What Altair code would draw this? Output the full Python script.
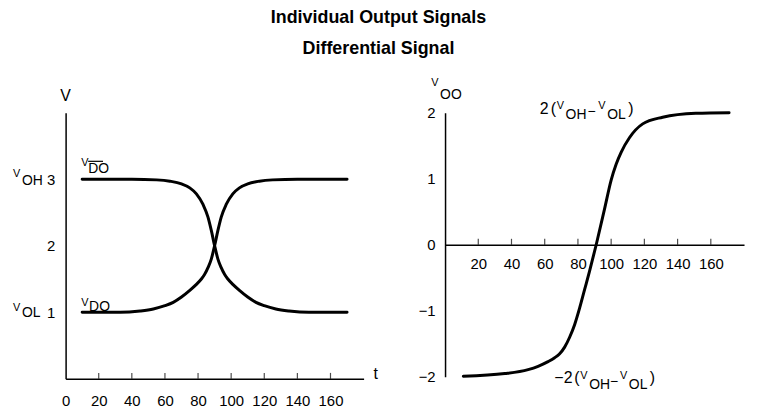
import altair as alt
import pandas as pd

FONT = "Liberation Sans, Arial, sans-serif"
TFONT = "Liberation Sans, Arial, sans-serif"

# ---- data: individual output signals ----
t_dobar = [10, 40, 55, 63, 70, 75, 79, 83, 86, 88, 90, 92, 94, 96, 98, 101, 105, 110, 115, 120, 127, 135, 147, 170]
v_dobar = [3.0, 3.0, 2.99, 2.97, 2.93, 2.87, 2.78, 2.62, 2.43, 2.23, 2.0, 1.8, 1.67, 1.57, 1.5, 1.42, 1.33, 1.23, 1.15, 1.1, 1.05, 1.02, 1.0, 1.0]
t_do = [10, 33, 45, 53, 60, 65, 70, 75, 79, 82, 84, 86, 88, 90, 92, 94, 97, 101, 105, 110, 117, 125, 140, 170]
v_do = [1.0, 1.0, 1.02, 1.05, 1.1, 1.15, 1.23, 1.33, 1.42, 1.5, 1.57, 1.67, 1.8, 2.0, 2.23, 2.43, 2.62, 2.78, 2.87, 2.93, 2.97, 2.99, 3.0, 3.0]

# ---- data: differential signal ----
t_od = [11, 36, 50, 56, 62, 66, 69, 72, 75, 78, 81, 84, 87, 91, 96, 100, 103, 106, 111, 119, 131, 151, 171]
v_od = [-1.99, -1.95, -1.89, -1.84, -1.77, -1.71, -1.65, -1.55, -1.4, -1.21, -0.96, -0.68, -0.4, 0.0, 0.54, 0.98, 1.22, 1.4, 1.62, 1.83, 1.93, 1.99, 2.0]

# ---- axis values ----
x_labels_left = [0, 20, 40, 60, 80, 100, 120, 140, 160]
x_labels_right = [20, 40, 60, 80, 100, 120, 140, 160]
x_tickmarks = [20, 40, 60, 80, 100, 120, 140, 160]
y_labels_left = [1, 2, 3]
y_labels_right = [-2, -1, 0, 1, 2]

W_L, H_L = 300, 268
W_R, H_R = 301, 266

xs = alt.Scale(domain=[0, 180], nice=False, zero=False)
ysL = alt.Scale(domain=[0, 4], nice=False, zero=False)
ysR = alt.Scale(domain=[-2, 2], nice=False, zero=False)

def xaxis(values, pad, offset=0):
    return alt.Axis(values=values, title=None, ticks=False, tickSize=0, grid=False,
                    labelPadding=pad, offset=offset, domainColor="black", domainWidth=1.5,
                    labelFont=FONT, labelFontSize=15, labelColor="black", labelFlush=False,
                    labelOverlap=False)

def yaxis(values, pad):
    return alt.Axis(values=values, title=None, ticks=False, tickSize=0, grid=False,
                    labelPadding=pad, domainColor="black", domainWidth=1.5,
                    labelFont=FONT, labelFontSize=15, labelColor="black", labelFlush=False,
                    labelOverlap=False)

XL = alt.X("t:Q", scale=xs, axis=xaxis(x_labels_left, 15))
YL = alt.Y("v:Q", scale=ysL, axis=yaxis(y_labels_left, 11))
XR = alt.X("t:Q", scale=xs, axis=xaxis(x_labels_right, 12, offset=-H_R / 2))
YR = alt.Y("v:Q", scale=ysR, axis=yaxis(y_labels_right, 10))


def seg(X, Y, t, v, text, dx, dy, size, align="left"):
    return alt.Chart(pd.DataFrame({"t": [t], "v": [v]})).mark_text(
        text=text, dx=dx, dy=dy, fontSize=size, align=align, baseline="alphabetic",
        font=FONT, color="black").encode(x=X, y=Y)


# ---------- left panel ----------
df_left = pd.concat([
    pd.DataFrame({"t": t_dobar, "v": v_dobar, "s": "dobar"}),
    pd.DataFrame({"t": t_do, "v": v_do, "s": "do"}),
])
lines_left = alt.Chart(df_left).mark_line(
    color="black", strokeWidth=3, interpolate="monotone", strokeCap="round"
).encode(x=XL, y=YL, detail="s:N")

ticks_left = alt.Chart(pd.DataFrame({"t": x_tickmarks, "v": [0] * len(x_tickmarks)})).mark_tick(
    orient="vertical", size=6, thickness=1.2, color="black", yOffset=-3
).encode(x=XL, y=YL)

overline = alt.Chart(pd.DataFrame({"t": [10], "t2": [10], "v": [3]})).mark_rule(
    color="black", strokeWidth=1.2, xOffset=6, x2Offset=21, yOffset=-18
).encode(x=XL, x2="t2:Q", y=YL)

left_layers = [
    lines_left, ticks_left, overline,
    seg(XL, YL, 0, 4, "V", 0, -12, 16, "center"),
    seg(XL, YL, 0, 3, "V", -53, -2, 11),
    seg(XL, YL, 0, 3, "OH", -44, 6, 14),
    seg(XL, YL, 0, 1, "V", -53, -1, 11),
    seg(XL, YL, 0, 1, "OL", -44, 5, 14),
    seg(XL, YL, 10, 3, "V", -1, -13, 11),
    seg(XL, YL, 10, 3, "DO", 6, -6, 14),
    seg(XL, YL, 10, 1, "V", -1, -6, 11),
    seg(XL, YL, 10, 1, "DO", 7, -1, 14),
    seg(XL, YL, 180, 0, "t", 10, 0, 16),
]
left = alt.layer(*left_layers).properties(width=W_L, height=H_L)

# ---------- right panel ----------
df_right = pd.DataFrame({"t": t_od, "v": v_od})
line_right = alt.Chart(df_right).mark_line(
    color="black", strokeWidth=3, interpolate="monotone", strokeCap="round"
).encode(x=XR, y=YR)

ticks_right = alt.Chart(pd.DataFrame({"t": x_tickmarks, "v": [0] * len(x_tickmarks)})).mark_tick(
    orient="vertical", size=6, thickness=1.2, color="black", yOffset=-3
).encode(x=XR, y=YR)

right_layers = [
    line_right, ticks_right,
    seg(XR, YR, 0, 2, "V", -14, -27, 11),
    seg(XR, YR, 0, 2, "OO", -5, -14, 14),
    # 2 (V_OH - V_OL)
    seg(XR, YR, 60, 2, "2", -5, 1, 16),
    seg(XR, YR, 60, 2, "(", 6, 1, 16),
    seg(XR, YR, 60, 2, "V", 12, -4, 11),
    seg(XR, YR, 60, 2, "OH", 21, 6, 14),
    seg(XR, YR, 60, 2, "\u2212", 43, 3, 14),
    seg(XR, YR, 60, 2, "V", 54, -4, 11),
    seg(XR, YR, 60, 2, "OL", 63, 6, 14),
    seg(XR, YR, 60, 2, ")", 84, 1, 16),
    # -2 (V_OH - V_OL)
    seg(XR, YR, 70, -2, "\u22122", -7, 6, 16),
    seg(XR, YR, 70, -2, "(", 13, 6, 16),
    seg(XR, YR, 70, -2, "V", 19, 2, 11),
    seg(XR, YR, 70, -2, "OH", 28, 12, 14),
    seg(XR, YR, 70, -2, "\u2212", 49, 9, 14),
    seg(XR, YR, 70, -2, "V", 59, 2, 11),
    seg(XR, YR, 70, -2, "OL", 68, 12, 14),
    seg(XR, YR, 70, -2, ")", 89, 6, 16),
]
right = alt.layer(*right_layers).properties(width=W_R, height=H_R)

chart = alt.hconcat(left, right, spacing=82, bounds="flush").properties(
    title=alt.TitleParams(
        text="Individual Output Signals", subtitle="Differential Signal",
        font=TFONT, fontSize=18, fontWeight="bold", color="black",
        subtitleFont=TFONT, subtitleFontSize=18, subtitleFontWeight="bold",
        subtitleColor="black", subtitlePadding=13, anchor="middle", offset=19),
    padding={"left": 5, "top": 0, "right": 5, "bottom": 0},
).configure_view(stroke=None)

chart.save("out.html", embed_options={"renderer": "svg", "actions": False})
